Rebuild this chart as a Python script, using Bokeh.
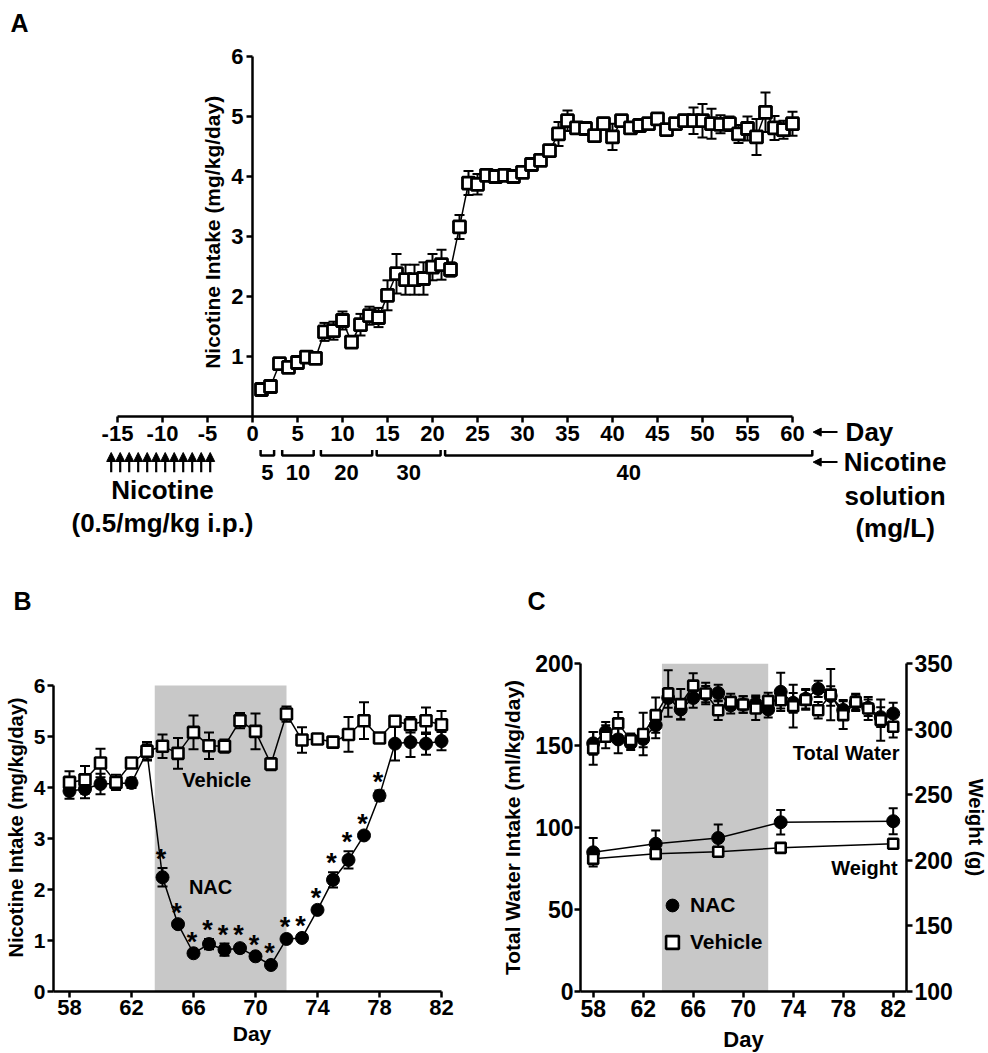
import math
from bokeh.plotting import figure
from bokeh.models import (ColumnDataSource, Whisker, TeeHead, Label, Range1d, Title,
                          FixedTicker, Arrow, NormalHead, Legend, LegendItem, LinearAxis,
                          NumeralTickFormatter)
from bokeh.layouts import column, row
from bokeh.embed import file_html
from bokeh.resources import INLINE
from bokeh.core.properties import value

FONT = "Liberation Sans"

# ---------------- Panel A data ----------------
a_days = list(range(1, 61))
a_intake = [0.45, 0.50, 0.88, 0.82, 0.90, 0.99, 0.97, 1.41, 1.43, 1.60,
            1.24, 1.53, 1.68, 1.65, 2.02, 2.38, 2.28, 2.28, 2.30, 2.49,
            2.53, 2.45, 3.16, 3.89, 3.87, 4.02, 4.00, 4.02, 4.00, 4.07,
            4.20, 4.27, 4.43, 4.71, 4.93, 4.81, 4.80, 4.68, 4.88, 4.66,
            4.93, 4.81, 4.85, 4.88, 4.96, 4.78, 4.88, 4.93, 4.93, 4.93,
            4.88, 4.87, 4.88, 4.71, 4.80, 4.66, 5.07, 4.81, 4.78, 4.88]
a_sem = [0.05, 0.05, 0.06, 0.06, 0.05, 0.05, 0.05, 0.15, 0.15, 0.15,
         0.08, 0.18, 0.15, 0.16, 0.25, 0.33, 0.25, 0.25, 0.27, 0.22,
         0.25, 0.12, 0.20, 0.20, 0.17, 0.05, 0.05, 0.06, 0.05, 0.06,
         0.06, 0.08, 0.10, 0.20, 0.17, 0.08, 0.07, 0.08, 0.10, 0.22,
         0.08, 0.07, 0.07, 0.08, 0.10, 0.08, 0.07, 0.10, 0.22, 0.28,
         0.25, 0.15, 0.12, 0.15, 0.20, 0.30, 0.33, 0.20, 0.15, 0.20]
a_xticks = [-15, -10, -5, 0, 5, 10, 15, 20, 25, 30, 35, 40, 45, 50, 55, 60]
a_yticks = [1, 2, 3, 4, 5, 6]
injection_days = [-16, -15, -14, -13, -12, -11, -10, -9, -8, -7, -6, -5]
conc_labels = ["5", "10", "20", "30", "40"]
conc_start = [0.9, 3.3, 7.6, 13.8, 21.4]
conc_end = [2.4, 6.8, 13.3, 20.9, 62.2]

# ---------------- Panel B data ----------------
b_days = list(range(58, 83))
veh_b = [4.10, 4.15, 4.48, 4.10, 4.48, 4.71, 4.81, 4.67, 5.08, 4.82, 4.81, 5.31, 5.10,
         4.46, 5.44, 4.93, 4.95, 4.89, 5.04, 5.31, 4.97, 5.30, 5.23, 5.31, 5.23]
veh_b_err = [0.22, 0.27, 0.28, 0.15, 0.10, 0.18, 0.23, 0.30, 0.33, 0.26, 0.13, 0.15, 0.35,
             0.12, 0.15, 0.25, 0.05, 0.05, 0.34, 0.36, 0.06, 0.10, 0.15, 0.26, 0.27]
nac_b = [3.93, 3.97, 4.07, 4.08, 4.09, 4.70, 2.24, 1.32, 0.75, 0.93, 0.82, 0.85, 0.69,
         0.52, 1.03, 1.05, 1.60, 2.19, 2.58, 3.06, 3.84, 4.86, 4.89, 4.86, 4.91]
nac_b_err = [0.15, 0.18, 0.20, 0.10, 0.10, 0.15, 0.18, 0.05, 0.05, 0.10, 0.12, 0.08, 0.05,
             0.05, 0.05, 0.05, 0.05, 0.15, 0.17, 0.05, 0.10, 0.33, 0.29, 0.22, 0.18]
sig_days = list(range(64, 79))
treat_start, treat_end = 63.5, 72.0
bc_xticks = [58, 62, 66, 70, 74, 78, 82]
b_yticks = [0, 1, 2, 3, 4, 5, 6]

# ---------------- Panel C data ----------------
c_days = list(range(58, 83))
veh_c = [148.2, 155.3, 163.5, 153.3, 157.0, 168.5, 181.7, 175.2, 186.5, 181.7, 171.5, 176.6, 175.0,
         172.6, 177.2, 177.6, 174.0, 177.8, 171.5, 181.0, 168.5, 176.6, 172.6, 165.5, 161.4]
veh_c_err = [10, 7, 7, 4, 13, 10.8, 14.2, 9.3, 7.5, 6.5, 6, 5, 5,
             7, 5, 5, 13, 6, 5, 15.6, 8.5, 5, 7, 12.6, 6.5]
nac_c = [151.3, 158.3, 153.7, 151.3, 154.0, 162.4, 179.0, 172.0, 179.0, 181.3, 182.0, 174.5, 175.0,
         175.5, 172.0, 182.7, 176.0, 178.5, 184.5, 180.2, 171.7, 176.0, 173.0, 167.3, 169.5]
nac_c_err = [7, 6, 8.5, 4, 5, 8, 6, 6, 6, 5, 5, 5, 5,
             5, 5, 11.6, 6, 6, 5, 6, 6, 5, 5, 6, 6.5]
w_days = [58, 63, 68, 73, 82]
nac_w = [206.1, 212.6, 217.0, 229.0, 229.8]
nac_w_err = [10.9, 10.2, 10.2, 9.4, 9.9]
veh_w = [201.1, 204.9, 206.5, 209.5, 212.6]
veh_w_err = [3, 3, 3, 3, 3]
c_yticks = [0, 50, 100, 150, 200]
w_yticks = [100, 150, 200, 250, 300, 350]


def style_axis(ax, size):
    ax.axis_line_width = 2.5
    ax.axis_line_color = "black"
    ax.major_tick_line_width = 2.5
    ax.major_tick_line_color = "black"
    ax.major_tick_out = 6
    ax.major_tick_in = 0
    ax.minor_tick_line_color = None
    ax.major_label_text_font = FONT
    ax.major_label_text_font_style = "bold"
    ax.major_label_text_font_size = size
    ax.major_label_text_color = "black"
    ax.axis_label_text_font = FONT
    ax.axis_label_text_font_style = "bold"
    ax.axis_label_text_color = "black"


def whisk(p, x, y, e, size=10, range_name=None):
    src = ColumnDataSource(dict(base=x, upper=[a + b for a, b in zip(y, e)],
                                lower=[a - b for a, b in zip(y, e)]))
    kw = {}
    if range_name:
        kw["y_range_name"] = range_name
    w = Whisker(source=src, base="base", upper="upper", lower="lower",
                line_width=2, line_color="black", level="underlay",
                upper_head=TeeHead(size=size, line_width=2, line_color="black"),
                lower_head=TeeHead(size=size, line_width=2, line_color="black"), **kw)
    p.add_layout(w)


def label(p, x, y, text, size, align="center", baseline="middle", angle=0.0, **kw):
    p.add_layout(Label(x=x, y=y, text=text, text_font=FONT, text_font_style="bold",
                       text_font_size=size, text_align=align, text_baseline=baseline,
                       angle=angle, text_color="black", **kw))


def panel_title(p, text, offset, standoff, line_height=1.2):
    p.title = Title(text=text, align="left", offset=offset, standoff=standoff,
                    text_font=FONT, text_font_style="bold", text_font_size="25px",
                    text_color="black", text_line_height=line_height)


# ================= Panel A =================
A_BL, A_BT, A_BB = 60, 39, 36
A_FW, A_FH = 928, 506
xa0 = (A_BL - 252) / 9.0
xa1 = xa0 + A_FW / 9.0
ya1 = (416 - A_BT) / 60.0
ya0 = ya1 - A_FH / 60.0

pA = figure(frame_width=A_FW, frame_height=A_FH, x_range=Range1d(xa0, xa1),
            y_range=Range1d(ya0, ya1), min_border_left=A_BL, min_border_right=0,
            min_border_top=A_BT, min_border_bottom=A_BB, output_backend="svg",
            toolbar_location=None, outline_line_color=None)
panel_title(pA, "A", -50, 6)
pA.grid.visible = False
style_axis(pA.xaxis[0], "22px")
style_axis(pA.yaxis[0], "22px")
pA.xaxis.fixed_location = 0
pA.yaxis.fixed_location = 0
pA.xaxis.ticker = FixedTicker(ticks=a_xticks)
pA.yaxis.ticker = FixedTicker(ticks=a_yticks)
pA.xaxis.formatter = NumeralTickFormatter(format="0")
pA.xaxis.bounds = (a_xticks[0], a_xticks[-1])
pA.yaxis.bounds = (0, 6)
pA.xaxis.major_label_standoff = 3
pA.yaxis.major_label_standoff = 3

whisk(pA, a_days, a_intake, a_sem, size=10)
pA.line(a_days, a_intake, line_color="black", line_width=1.5)
pA.scatter(a_days, a_intake, marker="square", size=12, fill_color="white",
           line_color="black", line_width=2.8)

# injection arrows
inj_src = ColumnDataSource(dict(x=[d + 0.3 for d in injection_days],
                                y0=[-0.93] * len(injection_days),
                                y1=[-0.6] * len(injection_days)))
pA.add_layout(Arrow(source=inj_src, x_start="x", y_start="y0", x_end="x", y_end="y1",
                    line_width=2.2, line_color="black",
                    end=NormalHead(size=9, fill_color="black", line_color="black")))
# concentration brackets
bx = [[s, s, e, e] for s, e in zip(conc_start, conc_end)]
by = [[-0.56, -0.65, -0.65, -0.56] for _ in conc_start]
pA.multi_line(bx, by, line_color="black", line_width=2.5)
pA.text([(s + e) / 2 for s, e in zip(conc_start, conc_end)], [-0.93] * len(conc_labels),
        text=conc_labels, text_font=value(FONT), text_font_style="bold",
        text_font_size="22px", text_align="center", text_baseline="middle")

label(pA, -4.4, 3.07, "Nicotine Intake (mg/kg/day)", "21px", angle=math.pi / 2)
label(pA, -10.0, -1.23, "Nicotine", "26px")
label(pA, -10.0, -1.78, "(0.5/mg/kg i.p.)", "26px")
pA.add_layout(Arrow(x_start=65.0, y_start=-0.26, x_end=62.3, y_end=-0.26, line_width=2,
                    end=NormalHead(size=8, fill_color="black", line_color="black")))
pA.add_layout(Arrow(x_start=65.0, y_start=-0.76, x_end=62.3, y_end=-0.76, line_width=2,
                    end=NormalHead(size=8, fill_color="black", line_color="black")))
label(pA, 65.9, -0.26, "Day", "26px", align="left")
label(pA, 71.4, -0.76, "Nicotine", "26px")
label(pA, 71.4, -1.32, "solution", "26px")
label(pA, 71.4, -1.85, "(mg/L)", "26px")

# ================= Panels B & C share top/bottom borders (row aligns frames) =================
BC_BT, BC_BB, BC_FH = 82, 60, 328

# ================= Panel B =================
B_BL, B_BR = 53, 42
B_FW = 397
xb0 = 58 + (B_BL - 69) / 15.5
xb1 = xb0 + B_FW / 15.5
pB = figure(frame_width=B_FW, frame_height=BC_FH, x_range=Range1d(xb0, xb1),
            y_range=Range1d(0, BC_FH / 51.0), min_border_left=B_BL, min_border_right=B_BR,
            min_border_top=BC_BT, min_border_bottom=BC_BB, output_backend="svg",
            toolbar_location=None, outline_line_color=None)
panel_title(pB, "B\n", -40, 0, line_height=1.75)
pB.grid.visible = False
style_axis(pB.xaxis[0], "22px")
style_axis(pB.yaxis[0], "21px")
pB.xaxis.ticker = FixedTicker(ticks=bc_xticks)
pB.yaxis.ticker = FixedTicker(ticks=b_yticks)
pB.xaxis.bounds = (xb0, 82)
pB.yaxis.bounds = (0, 6)
pB.xaxis.axis_label = "Day"
pB.xaxis.axis_label_text_font_size = "21px"
pB.xaxis.axis_label_standoff = 4
pB.xaxis.major_label_standoff = 2
pB.yaxis.axis_label = "Nicotine Intake (mg/kg/day)"
pB.yaxis.axis_label_text_font_size = "20px"
pB.yaxis.axis_label_standoff = 4
pB.yaxis.major_label_standoff = 2

pB.quad(left=[treat_start], right=[treat_end], bottom=[0], top=[6], fill_color="#c8c8c8",
        line_color=None, level="image")
whisk(pB, b_days, nac_b, nac_b_err, size=10)
whisk(pB, b_days, veh_b, veh_b_err, size=10)
pB.line(b_days, nac_b, line_color="black", line_width=1.5)
pB.line(b_days, veh_b, line_color="black", line_width=1.5)
pB.scatter(b_days, nac_b, marker="circle", size=13, fill_color="black", line_color="black")
pB.scatter(b_days, veh_b, marker="square", size=11, fill_color="white", line_color="black",
           line_width=2.6)
star_idx = [b_days.index(d) for d in sig_days]
pB.text([d - 0.1 for d in sig_days], [nac_b[i] + nac_b_err[i] for i in star_idx],
        text=["*"] * len(sig_days), text_font=value(FONT), text_font_style="bold",
        text_font_size="27px", text_align="center", text_baseline="bottom", y_offset=6)
label(pB, 67.5, 4.14, "Vehicle", "20px")
label(pB, 67.1, 2.04, "NAC", "20px")

# ================= Panel C =================
C_BL, C_BR = 88, 80
C_FW = 326
c_left_px = B_BL + B_FW + B_BR + C_BL
xc0 = 58 + (c_left_px - 592.7) / 12.5
xc1 = xc0 + C_FW / 12.5
pC = figure(frame_width=C_FW, frame_height=BC_FH, x_range=Range1d(xc0, xc1),
            y_range=Range1d(0, 200), min_border_left=C_BL, min_border_right=C_BR,
            min_border_top=BC_BT, min_border_bottom=BC_BB, output_backend="svg",
            toolbar_location=None, outline_line_color=None)
panel_title(pC, "C\n", -53, 0, line_height=1.75)
pC.extra_y_ranges = {"w": Range1d(100, 350)}
pC.grid.visible = False
style_axis(pC.xaxis[0], "23px")
style_axis(pC.yaxis[0], "23px")
pC.xaxis.ticker = FixedTicker(ticks=bc_xticks)
pC.yaxis.ticker = FixedTicker(ticks=c_yticks)
pC.xaxis.axis_label = "Day"
pC.xaxis.axis_label_text_font_size = "22px"
pC.xaxis.axis_label_standoff = 7
pC.xaxis.major_label_standoff = 2
pC.yaxis.axis_label = "Total Water Intake (ml/kg/day)"
pC.yaxis.axis_label_text_font_size = "21px"
pC.yaxis.axis_label_standoff = 8
pC.yaxis.major_label_standoff = 1
wax = LinearAxis(y_range_name="w", ticker=FixedTicker(ticks=w_yticks), axis_label="Weight (g)")
style_axis(wax, "23px")
wax.axis_label_text_font_size = "20px"
wax.axis_label_standoff = 9
wax.major_label_standoff = 2
pC.add_layout(wax, "right")

pC.quad(left=[treat_start], right=[treat_end], bottom=[0], top=[200], fill_color="#c8c8c8",
        line_color=None, level="image")
whisk(pC, c_days, nac_c, nac_c_err, size=9)
whisk(pC, c_days, veh_c, veh_c_err, size=9)
whisk(pC, w_days, nac_w, nac_w_err, size=9, range_name="w")
whisk(pC, w_days, veh_w, veh_w_err, size=9, range_name="w")
pC.line(c_days, nac_c, line_color="black", line_width=1.5)
pC.line(c_days, veh_c, line_color="black", line_width=1.5)
pC.line(w_days, nac_w, line_color="black", line_width=1.5, y_range_name="w")
pC.line(w_days, veh_w, line_color="black", line_width=1.5, y_range_name="w")
r_nac = pC.scatter(c_days, nac_c, marker="circle", size=13, fill_color="black", line_color="black")
r_veh = pC.scatter(c_days, veh_c, marker="square", size=10, fill_color="white",
                   line_color="black", line_width=2.6)
pC.scatter(w_days, nac_w, marker="circle", size=13, fill_color="black", line_color="black",
           y_range_name="w")
pC.scatter(w_days, veh_w, marker="square", size=10, fill_color="white", line_color="black",
           line_width=2.6, y_range_name="w")
label(pC, 82.5, 145.2, "Total Water", "20px", align="right")
label(pC, 82.35, 75.2, "Weight", "20px", align="right")

legend = Legend(items=[LegendItem(label="NAC", renderers=[r_nac]),
                       LegendItem(label="Vehicle", renderers=[r_veh])],
                location=(76, 33), orientation="vertical", border_line_color=None,
                background_fill_alpha=0, glyph_width=32, glyph_height=32, spacing=5,
                padding=0, margin=0, label_standoff=2, label_height=32,
                label_text_font=FONT, label_text_font_style="bold",
                label_text_font_size="21px", label_text_color="black")
pC.add_layout(legend)

layout = column(pA, row(pB, pC))
open("out.html", "w").write(file_html(layout, INLINE))
